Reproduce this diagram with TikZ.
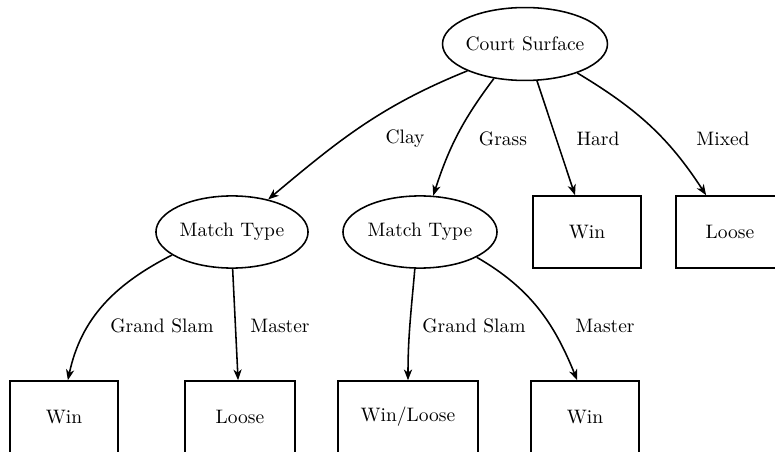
\documentclass[tikz,border=0pt]{standalone}
\usetikzlibrary{shapes.geometric,arrows.meta}
\begin{document}
\begin{tikzpicture}[x=0.5128pt,y=-0.5128pt,
  oval/.style={ellipse,draw,thick,inner sep=0pt,minimum width=78pt,minimum height=37pt},
  leaf/.style={rectangle,draw,thick,inner sep=0pt,minimum width=55.4pt,minimum height=36.9pt},
  lbl/.style={inner sep=0pt},
  arr/.style={-{Stealth[length=5.5pt,width=4.2pt,inset=1.6pt]},thick}]
\clip (0,0) rectangle (775,452);
\node[oval,minimum width=84.6pt,minimum height=37.4pt] (cs) at (525,44) {\makebox[0pt]{Court Surface}};
\node[oval] (mt1) at (232,232) {\makebox[0pt]{Match Type}};
\node[oval,minimum width=79pt] (mt2) at (420,232) {\makebox[0pt]{Match Type}};
\node[leaf] (win1) at (587,232) {Win};
\node[leaf] (lo1) at (730,232) {Loose};
\node[leaf] (w2) at (64,417) {Win};
\node[leaf,minimum width=56.4pt] (lo2) at (240,417) {Loose};
\node[leaf,minimum width=71.8pt] (wl) at (408,417) {Win/Loose};
\node[leaf] (w3) at (585,417) {Win};
\draw[arr] (cs.205) to[out=202,in=40] (mt1.42);
\draw[arr] (cs.228) to[out=233,in=72] (mt2.70);
\draw[arr] (cs.288) -- (win1.108);
\draw[arr] (cs.331) to[out=329,in=123] (lo1.123);
\draw[arr] (mt1.201) to[out=207,in=78] (w2.84);
\draw[arr] (mt1.271) -- (lo2.93);
\draw[arr] (mt2.262) to[out=265,in=90] (wl.north);
\draw[arr] (mt2.336) to[out=330,in=112] (w3.102);
\node[lbl] (lclay) at (405,139) {Clay};
\node[lbl] (lgrass) at (503,139) {Grass};
\node[lbl] (lhard) at (598,139) {Hard};
\node[lbl] (lmixed) at (723,139) {Mixed};
\node[lbl] (lgs1) at (162,326) {Grand Slam};
\node[lbl] (lma1) at (280,326) {Master};
\node[lbl] (lgs2) at (474,326) {Grand Slam};
\node[lbl] (lma2) at (605,326) {Master};
\end{tikzpicture}
\end{document}
